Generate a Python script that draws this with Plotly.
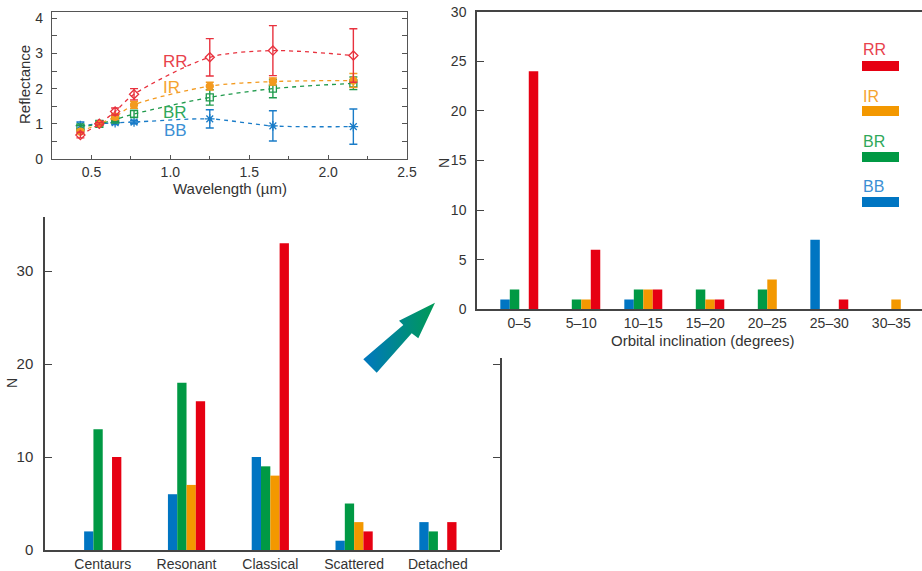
import plotly.graph_objects as go

# ---------------- data ----------------
series = ["BB", "BR", "IR", "RR"]
bar_colors = ["#0075c2", "#009944", "#f39800", "#e60012"]
line_colors = {"RR": "#e8323e", "IR": "#f39a1f", "BR": "#1f9a4c", "BB": "#1a7cc8"}
label_colors = {"RR": "#e8424c", "IR": "#f5a431", "BR": "#2fa85a", "BB": "#3b8fd4"}

wavelength = [0.43, 0.55, 0.65, 0.77, 1.25, 1.65, 2.16]
refl = {
    "RR": [0.68, 1.00, 1.35, 1.84, 2.89, 3.08, 2.94],
    "IR": [0.78, 1.00, 1.20, 1.54, 2.07, 2.20, 2.23],
    "BR": [0.90, 1.00, 1.12, 1.28, 1.75, 2.00, 2.15],
    "BB": [0.95, 1.00, 1.03, 1.05, 1.14, 0.94, 0.92],
}
refl_err = {
    "RR": [0.08, 0.03, 0.10, 0.16, 0.53, 0.71, 0.76],
    "IR": [0.06, 0.03, 0.08, 0.10, 0.11, 0.10, 0.20],
    "BR": [0.06, 0.03, 0.06, 0.10, 0.22, 0.26, 0.18],
    "BB": [0.10, 0.03, 0.05, 0.05, 0.26, 0.43, 0.50],
}
markers = {"RR": "diamond-open", "IR": "circle", "BR": "square-open", "BB": "asterisk-open"}
label_pos = {"RR": (1.03, 2.76), "IR": (1.01, 2.02), "BR": (1.03, 1.31), "BB": (1.03, 0.80)}

incl_bins = ["0–5", "5–10", "10–15", "15–20", "20–25", "25–30", "30–35"]
incl_counts = {
    "BB": [1, 0, 1, 0, 0, 7, 0],
    "BR": [2, 1, 2, 2, 2, 0, 0],
    "IR": [0, 1, 2, 1, 3, 0, 1],
    "RR": [24, 6, 2, 1, 0, 1, 0],
}

classes = ["Centaurs", "Resonant", "Classical", "Scattered", "Detached"]
class_counts = {
    "BB": [2, 6, 10, 1, 3],
    "BR": [13, 18, 9, 5, 2],
    "IR": [0, 7, 8, 3, 0],
    "RR": [10, 16, 33, 2, 3],
}

W, H = 922, 571
FONT = "Liberation Sans, Arial, sans-serif"
TXT = "#333333"
AX = "#555555"


def fx(px):
    return px / W


def fy(py):
    return 1 - py / H


fig = go.Figure()

# ---------------- top-left: reflectance ----------------
for s in ["BB", "BR", "IR", "RR"]:
    fig.add_trace(go.Scatter(
        x=wavelength, y=refl[s], mode="lines+markers",
        line=dict(color=line_colors[s], width=1.3, dash="4px,4px", shape="spline", smoothing=0.8),
        marker=dict(symbol=markers[s], size=7 if s != "BB" else 8, color=line_colors[s],
                    line=dict(color=line_colors[s], width=1.3)),
        error_y=dict(type="data", array=refl_err[s], color=line_colors[s], thickness=1.4, width=4),
        xaxis="x", yaxis="y", showlegend=False, hoverinfo="skip",
    ))

# ---------------- right: inclination histogram ----------------
w2 = 0.153
for i, s in enumerate(series):
    fig.add_trace(go.Bar(
        x=list(range(len(incl_bins))), y=incl_counts[s], width=w2, offset=-2 * w2 + i * w2,
        marker=dict(color=bar_colors[i], line=dict(width=0)),
        xaxis="x2", yaxis="y2", showlegend=False, hoverinfo="skip",
    ))

# ---------------- bottom: dynamical classes ----------------
w3 = 0.111
for i, s in enumerate(series):
    fig.add_trace(go.Bar(
        x=list(range(len(classes))), y=class_counts[s], width=w3, offset=-2 * w3 + i * w3,
        marker=dict(color=bar_colors[i], line=dict(width=0)),
        xaxis="x3", yaxis="y3", showlegend=False, hoverinfo="skip",
    ))

# ---------------- arrow (decoration on pixel overlay axis) ----------------
arrow_x = [363.3, 403.3, 399.0, 435.0, 418.3, 411.7, 376.7, 363.3]
arrow_y = [359.3, 325.0, 320.7, 302.7, 338.3, 333.3, 372.7, 359.3]
fig.add_trace(go.Scatter(
    x=arrow_x, y=arrow_y, mode="lines", fill="toself",
    line=dict(width=0, color="rgba(0,0,0,0)"),
    fillgradient=dict(type="horizontal", colorscale=[[0, "#0077c0"], [1, "#009a55"]]),
    xaxis="x4", yaxis="y4", showlegend=False, hoverinfo="skip",
))

# dummy trace for bottom-panel right frame axis
fig.add_trace(go.Scatter(x=[0], y=[0], mode="markers", marker=dict(opacity=0),
                         xaxis="x5", yaxis="y5", showlegend=False, hoverinfo="skip"))

tickfont = dict(family=FONT, size=14, color=TXT)

fig.update_layout(
    template="none",
    width=W, height=H,
    margin=dict(l=0, r=0, t=0, b=0, pad=0),
    paper_bgcolor="white", plot_bgcolor="rgba(0,0,0,0)",
    font=dict(family=FONT, color=TXT),
    barmode="overlay",
    # top-left
    xaxis=dict(domain=[fx(52), fx(407)], anchor="y", range=[0.25, 2.5], automargin=False,
               tickvals=[0.5, 1.0, 1.5, 2.0, 2.5], ticktext=["0.5", "1.0", "1.5", "2.0", "2.5"],
               ticks="inside", ticklen=4, tickcolor=AX, tickwidth=1.2,
               minor=dict(dtick=0.25, tick0=0, ticks="inside", ticklen=3, tickcolor=AX, showgrid=False),
               showline=True, linecolor=AX, linewidth=1.3, mirror=True,
               showgrid=False, zeroline=False, tickfont=tickfont, ticklabelstandoff=0),
    yaxis=dict(domain=[fy(159), fy(11.7)], anchor="x", range=[0, 4.185], automargin=False,
               tickvals=[0, 1, 2, 3, 4], ticks="inside", ticklen=5, tickcolor=AX, tickwidth=1.2,
               minor=dict(dtick=0.5, tick0=0, ticks="inside", ticklen=5, tickcolor=AX, showgrid=False),
               showline=True, linecolor=AX, linewidth=1.3, mirror="ticks",
               showgrid=False, zeroline=False, tickfont=tickfont, ticklabelstandoff=5),
    # right
    xaxis2=dict(domain=[fx(477), 1.0], anchor="y2", range=[-0.682, 6.495], automargin=False,
                tickvals=list(range(len(incl_bins))), ticktext=incl_bins, ticks="",
                showline=True, linecolor="#444444", linewidth=1.5, mirror=True,
                showgrid=False, zeroline=False, tickfont=dict(family=FONT, size=14, color=TXT),
                ticklabelstandoff=0),
    yaxis2=dict(domain=[fy(309.3), fy(11.7)], anchor="x2", range=[0, 30], automargin=False,
                tickvals=[0, 5, 10, 15, 20, 25, 30], ticks="inside", ticklen=7, tickcolor="#444444",
                tickwidth=1.3, showline=True, linecolor="#444444", linewidth=1.5,
                showgrid=False, zeroline=False, tickfont=dict(family=FONT, size=14, color=TXT),
                ticklabelstandoff=6),
    # bottom
    xaxis3=dict(domain=[fx(45), fx(500)], anchor="y3", range=[-0.689, 4.741], automargin=False,
                tickvals=list(range(len(classes))), ticktext=classes, ticks="",
                showline=True, linecolor="#444444", linewidth=1.5,
                showgrid=False, zeroline=False, tickfont=dict(family=FONT, size=14, color=TXT),
                ticklabelstandoff=0),
    yaxis3=dict(domain=[fy(550), fy(216.7)], anchor="x3", range=[0, 35.85], automargin=False,
                tickvals=[0, 10, 20, 30], ticks="inside", ticklen=7, tickcolor="#444444",
                tickwidth=1.3, showline=True, linecolor="#444444", linewidth=1.5,
                showgrid=False, zeroline=False, tickfont=dict(family=FONT, size=15, color=TXT),
                ticklabelstandoff=7),
    # right frame of bottom panel (partially hidden in original)
    xaxis5=dict(domain=[fx(45), fx(500)], anchor="y5", range=[0, 1], visible=False, automargin=False),
    yaxis5=dict(domain=[fy(550), fy(358)], anchor="x5", side="right", range=[0, 20.65],
                automargin=False,
                tickvals=[10, 20], ticks="inside", ticklen=7, tickcolor="#444444", tickwidth=1.3,
                showticklabels=False, showline=True, linecolor="#444444", linewidth=1.5,
                showgrid=False, zeroline=False),
    # overlay pixel axis
    xaxis4=dict(domain=[0, 1], anchor="y4", range=[0, W], visible=False, fixedrange=True, automargin=False),
    yaxis4=dict(domain=[0, 1], anchor="x4", range=[H, 0], visible=False, fixedrange=True, automargin=False),
)

ann = []


def add_text(text, x, y, size, color=TXT, angle=0, xref="paper", yref="paper", xanchor="center"):
    ann.append(dict(text=text, x=x, y=y, xref=xref, yref=yref, textangle=angle,
                    xanchor=xanchor, yanchor="middle", showarrow=False,
                    font=dict(family=FONT, size=size, color=color)))


# axis titles
add_text("Wavelength (µm)", fx(229.5), fy(189), 15)
add_text("Reflectance", fx(24), fy(85), 15, angle=-90)
add_text("Orbital inclination (degrees)", fx(702), fy(340), 15)
add_text("N", fx(444), fy(163), 14, angle=-90)
add_text("N", fx(12), fy(383), 14, angle=-90)

# series labels in reflectance panel
for s in ["RR", "IR", "BR", "BB"]:
    lx, ly = label_pos[s]
    add_text(s, lx, ly, 17, color=label_colors[s], xref="x", yref="y")

# legend in right panel
shapes = []
leg_text_y = [50, 97, 142, 186]
leg_bar_y = [61, 106, 152, 197]
for k, s in enumerate(["RR", "IR", "BR", "BB"]):
    ci = series.index(s)
    add_text(s, fx(861), fy(leg_text_y[k]), 16, color=label_colors[s], xanchor="left")
    shapes.append(dict(type="rect", xref="paper", yref="paper",
                       x0=fx(862), x1=fx(899), y0=fy(leg_bar_y[k] + 10), y1=fy(leg_bar_y[k]),
                       fillcolor=bar_colors[ci], line=dict(width=0)))

fig.update_layout(annotations=ann, shapes=shapes)
fig.write_html("out.html", config={"displayModeBar": False},
               post_script="document.body.style.margin='0px';")
